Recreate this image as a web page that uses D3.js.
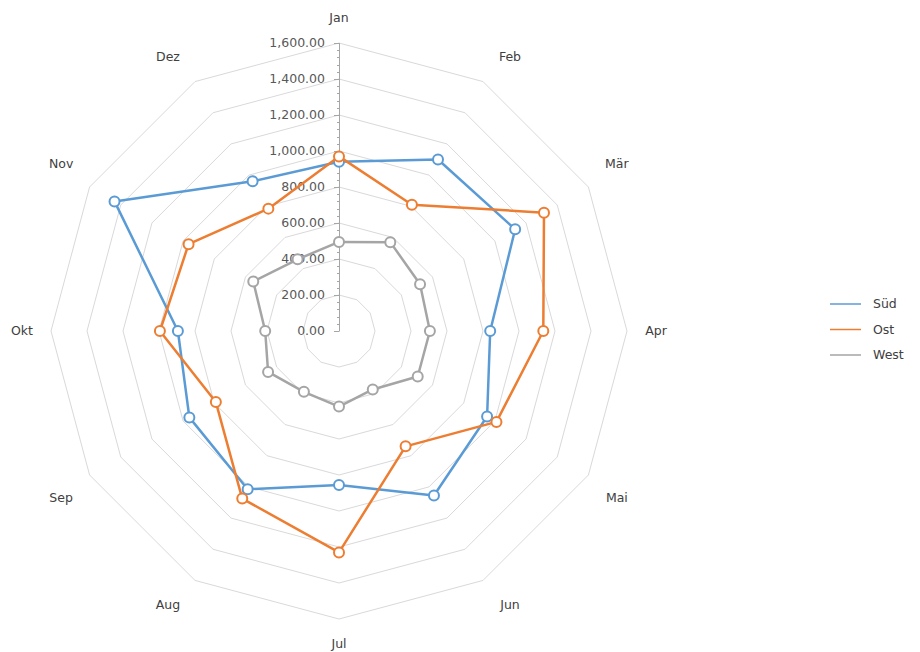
<!DOCTYPE html>
<html><head><meta charset="utf-8">
<script src="https://cdn.jsdelivr.net/npm/d3@7"></script>
<style>body{margin:0;background:#fff}svg{display:block}</style>
</head><body>
<script>
const months = ["Jan","Feb","Mär","Apr","Mai","Jun","Jul","Aug","Sep","Okt","Nov","Dez"];
const sued = [940,1100,1130,840,950,1055,855,1015,960,895,1440,960];
const ost  = [970,810,1315,1135,1010,740,1230,1075,790,995,965,785];
const west = [495,570,520,505,505,375,420,390,455,410,550,460];
const seriesNames = ["Süd","Ost","West"];
const seriesColors = ["#5b9bd5","#ed7d31","#a5a5a5"];
const tickValues = [0,200,400,600,800,1000,1200,1400,1600];

const W=920,H=652,cx=339,cy=331,R=288;
const svg=d3.select("body").append("svg").attr("width",W).attr("height",H)
  .style("font-family","'DejaVu Sans',Tahoma,sans-serif");
const r=d3.scaleLinear().domain([0,1600]).range([0,R]);
const ang=d3.scaleLinear().domain([0,12]).range([0,2*Math.PI]);
const pt=(i,v)=>[cx+r(v)*Math.sin(ang(i)),cy-r(v)*Math.cos(ang(i))];

// grid rings
tickValues.slice(1).forEach(t=>{
  const pts=months.map((m,i)=>pt(i,t));
  svg.append("polygon").attr("points",pts.map(p=>p.join(",")).join(" "))
    .attr("fill","none").attr("stroke","#d9d9d9").attr("stroke-width",1);
});

// axis
const yax=d3.scaleLinear().domain([0,1600]).range([cy,cy-R]);
svg.append("line").attr("x1",cx+0.5).attr("x2",cx+0.5).attr("y1",cy).attr("y2",cy-R)
  .attr("stroke","#a6a6a6").attr("stroke-width",1);
d3.range(0,1601,40).forEach(v=>{
  const major=v%200===0;
  svg.append("line").attr("x1",cx-(major?5:2)).attr("x2",cx+0.5).attr("y1",Math.round(yax(v))+0.5).attr("y2",Math.round(yax(v))+0.5)
    .attr("stroke","#a6a6a6").attr("stroke-width",1);
});
tickValues.forEach(v=>{
  svg.append("text").attr("x",cx-14).attr("y",yax(v)).attr("dy","0.35em")
    .attr("text-anchor","end").attr("font-size",12.5).attr("fill","#595959")
    .text(d3.format(",.2f")(v));
});

// month labels
months.forEach((m,i)=>{
  const a=ang(i), s=Math.sin(a), c=Math.cos(a);
  const sx=Math.abs(s)<1e-6?0:Math.sign(s), sy=Math.abs(c)<1e-6?0:Math.sign(c);
  const x=cx+292*s+25*sx, y=cy-(292*c+21*sy);
  svg.append("text").attr("x",x).attr("y",y).attr("dy","0.35em").attr("text-anchor","middle")
    .attr("font-size",12.5).attr("fill","#404040").text(m);
});

// series
const data=[sued,ost,west];
const line=d3.line().curve(d3.curveLinearClosed);
data.forEach((vals,s)=>{
  const pts=vals.map((v,i)=>pt(i,v));
  svg.append("path").attr("d",line(pts)).attr("fill","none")
    .attr("stroke",seriesColors[s]).attr("stroke-width",2.5).attr("stroke-linejoin","round");
  svg.selectAll(null).data(pts).enter().append("circle")
    .attr("cx",d=>d[0]).attr("cy",d=>d[1]).attr("r",5)
    .attr("fill","#fff").attr("stroke",seriesColors[s]).attr("stroke-width",2);
});

// legend
seriesNames.forEach((n,s)=>{
  const y=304+s*25.5;
  svg.append("line").attr("x1",830).attr("x2",861).attr("y1",y).attr("y2",y)
    .attr("stroke",seriesColors[s]).attr("stroke-width",1.5);
  svg.append("text").attr("x",873).attr("y",y).attr("dy","0.35em").attr("font-size",12.5)
    .attr("fill","#404040").text(n);
});
</script>
</body></html>
